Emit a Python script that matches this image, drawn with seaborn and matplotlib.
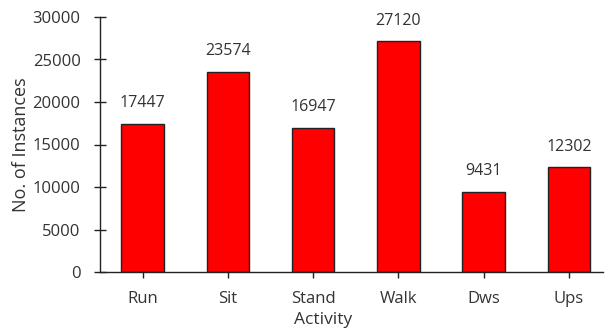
import matplotlib
matplotlib.use("Agg")
import matplotlib.pyplot as plt
import seaborn as sns
import pandas as pd

activities = ["Run", "Sit", "Stand", "Walk", "Dws", "Ups"]
instances = [17447, 23574, 16947, 27120, 9431, 12302]

sns.set_style("white")
plt.rcParams["font.family"] = ["Open Sans", "DejaVu Sans"]

df = pd.DataFrame({"Activity": activities, "Instances": instances})

fig = plt.figure(figsize=(6.06, 3.33), dpi=100)
ax = fig.add_axes([100 / 606, 1 - 272 / 333, 503 / 606, 255 / 333])

sns.barplot(data=df, x="Activity", y="Instances", color="#ff0000",
            width=0.5, edgecolor="#222222", linewidth=1.0, saturation=1,
            ax=ax)

ax.set_xlim(-0.5, 5.4)
ax.set_ylim(0, 30000)
ax.set_yticks(range(0, 30001, 5000))

text_color = "#333333"
for c in ax.containers:
    ax.bar_label(c, labels=[str(v) for v in instances], padding=9,
                 fontsize=11.5, color=text_color)

for side in ["top", "right"]:
    ax.spines[side].set_visible(False)
for side in ["left", "bottom"]:
    ax.spines[side].set_color("#222222")
    ax.spines[side].set_linewidth(1.0)

ax.tick_params(axis="both", direction="inout", length=8, width=1,
               color="#222222", labelcolor=text_color, labelsize=12,
               bottom=True, left=True)
ax.tick_params(axis="x", pad=10)
ax.tick_params(axis="y", pad=10)

ax.set_xlabel("Activity", fontsize=12.5, color=text_color)
ax.xaxis.set_label_coords(0.443, -0.155)
ax.set_ylabel("No. of Instances", fontsize=13, color=text_color)
ax.yaxis.set_label_coords(-0.14, 0.5)

fig.savefig("out.png", dpi=100)
